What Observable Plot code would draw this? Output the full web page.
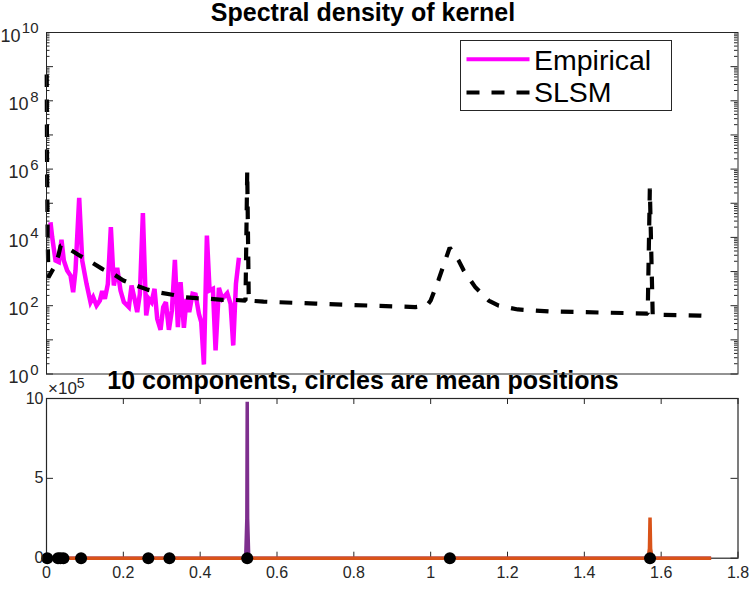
<!DOCTYPE html>
<html>
<head>
<meta charset="utf-8">
<script src="https://cdn.jsdelivr.net/npm/d3@7"></script>
<script src="https://cdn.jsdelivr.net/npm/@observablehq/plot@0.6"></script>
<style>
html,body{margin:0;padding:0;background:#fff;}
#wrap{position:relative;width:753px;height:593px;overflow:hidden;font-family:"Liberation Sans",sans-serif;color:#262626;}
#wrap svg{display:block;overflow:visible;background:transparent;}
#top,#bot{position:absolute;left:0;}
#top{top:0;} #bot{top:385px;}
.title{position:absolute;font-weight:bold;font-size:25px;line-height:24px;color:#000;white-space:nowrap;transform:translateX(-50%);}
#legend{position:absolute;left:459.5px;top:39.5px;width:210px;height:69px;border:1px solid #262626;background:#fff;box-sizing:content-box;}
#legend svg{position:absolute;left:0;top:0;}
#legend div{position:absolute;left:73.5px;font-size:28.5px;line-height:30px;color:#000;}
#mult{position:absolute;left:48px;top:380px;font-size:17px;line-height:18px;white-space:nowrap;}
#mult sup{font-size:14px;line-height:0;vertical-align:6px;}
</style>
</head>
<body>
<div id="wrap">
  <div id="top"></div>
  <div id="bot"></div>
  <div class="title" style="left:363px;top:0.4px">Spectral density of kernel</div>
  <div class="title" style="left:363px;top:368px">10 components, circles are mean positions</div>
  <div id="mult">×10<sup>5</sup></div>
  <div id="legend">
    <svg width="210" height="69">
      <line x1="5.5" x2="68.5" y1="18.2" y2="18.2" stroke="#ff00ff" stroke-width="4"/>
      <line x1="5.5" x2="68.5" y1="51.5" y2="51.5" stroke="#000" stroke-width="4" stroke-dasharray="13 12"/>
    </svg>
    <div style="top:4px">Empirical</div>
    <div style="top:36px">SLSM</div>
  </div>
</div>
<script>
// Empirical spectral density: frequency and log10(density)
const empiricalFreq = [.0104,.0148,.0234,.0321,.0390,.0451,.0538,.0625,.0694,.0755,.0851,.0929,.1042,.1146,.1215,.1302,.1389,.1450,.1519,.1597,.1675,.1753,.1840,.1927,.2014,.2144,.2214,.2292,.2361,.2431,.2509,.2595,.2665,.2734,.2812,.2882,.2969,.3038,.3108,.3186,.3264,.3342,.3420,.3490,.3576,.3646,.3715,.3802,.3880,.3967,.4028,.4097,.4175,.4245,.4332,.4401,.4488,.4575,.4705,.4792,.4861,.4931,.5009];
const empiricalLog = [4.446,4.007,3.324,3.275,3.929,3.324,3.031,2.884,2.396,3.031,5.159,3.324,2.640,2.103,2.250,2.006,2.152,2.426,2.201,2.640,4.300,2.592,3.109,2.445,2.103,1.957,2.592,2.201,1.811,2.348,4.710,1.713,2.201,2.103,2.494,1.616,1.293,1.957,2.103,1.293,1.860,3.343,1.371,2.689,1.352,2.201,1.811,2.348,2.328,1.762,1.518,0.278,4.056,2.445,2.494,0.688,2.523,2.201,2.367,2.055,0.835,2.640,3.402];

// SLSM spectral density
const slsmFreq = [.0005,.0015,.003,.005,.018,.031,.037,.045,.063,.089,.12,.146,.175,.2,.234,.263,.297,.328,.359,.391,.427,.458,.49,.518,.5225,.5265,.565,.7,.85,.96,.99,1.0,1.02,1.0495,1.0729,1.086,1.117,1.151,1.177,1.227,1.313,1.443,1.565,1.5705,1.578,1.6,1.7,1.72];
const slsmLog = [8.89,6,4,2.83,3.09,3.47,3.76,3.78,3.63,3.45,3.25,3.07,2.92,2.74,2.59,2.47,2.38,2.32,2.25,2.22,2.2,2.17,2.17,2.15,5.95,2.15,2.12,2.06,2.0,1.96,2.0,2.15,2.74,3.70,3.32,3.03,2.53,2.15,2.0,1.89,1.83,1.80,1.77,5.43,1.71,1.73,1.71,1.70];

// Components (lower panel)
const purpleFreq = [0,.5185,.5215,.5225,.5235,.5265,1.73];
const purpleVal = [0,0,2.5e5,9.8e5,2.5e5,0,0];
const orangeFreq = [0,1.5660,1.5695,1.5710,1.5725,1.5760,1.73];
const orangeVal = [0,0,0.6e5,2.55e5,0.6e5,0,0];
const meanPositions = [.002,.03,.036,.044,.09,.265,.32,.5225,1.05,1.571];

// Axis ticks
const xTicks = [0,.2,.4,.6,.8,1,1.2,1.4,1.6,1.8];
const xLabels = ["0","0.2","0.4","0.6","0.8","1","1.2","1.4","1.6","1.8"];
const decades = [0,2,4,6,8,10];
const allDecades = [0,1,2,3,4,5,6,7,8,9,10];
const yTicksBottom = [0,5e5,10e5];
const yLabelsBottom = ["0","5","10"];

const ink = "#262626";
const fs = 16;
const W = 753, mL = 46, mR = 15.5;

const minor = [];
for (const d of allDecades.slice(0,-1)) for (let k=2;k<10;k++) minor.push(k*10**d);
const major = allDecades.map(d=>10**d);
const pts = (xs,ys)=>xs.map((x,i)=>({x,y:ys[i]}));

const H1 = 385, top1 = 32, bot1 = 373.5;
const emp = pts(empiricalFreq, empiricalLog.map(v=>10**v));
const slsm = pts(slsmFreq, slsmLog.map(v=>10**v));

const p1 = Plot.plot({
  width:W,height:H1,marginLeft:mL,marginRight:mR,marginTop:top1,marginBottom:H1-bot1,
  style:{background:"transparent",fontFamily:"Liberation Sans",overflow:"visible"},
  x:{domain:[0,1.8],axis:null},
  y:{type:"log",domain:[1,1e10],axis:null},
  marks:[
    Plot.ruleY(major,{y:d=>d,stroke:ink,insetRight:(W-mL-mR)-7}),
    Plot.ruleY(major,{y:d=>d,stroke:ink,insetLeft:(W-mL-mR)-7}),
    Plot.ruleY(minor,{y:d=>d,stroke:ink,insetRight:(W-mL-mR)-3.5}),
    Plot.ruleY(minor,{y:d=>d,stroke:ink,insetLeft:(W-mL-mR)-3.5}),
    Plot.line(emp,{x:"x",y:"y",stroke:"#ff00ff",strokeWidth:4.5,strokeLinejoin:"miter",strokeMiterlimit:3,strokeLinecap:"butt"}),
    Plot.line(slsm,{x:"x",y:"y",stroke:"#000",strokeWidth:4.2,strokeDasharray:"12.7,12.3",strokeDashoffset:-4,strokeLinejoin:"miter",strokeLinecap:"butt"}),
    Plot.frame({stroke:ink,strokeWidth:1}),
    Plot.text(decades,{x:()=>0,y:d=>10**d,text:()=>"10",textAnchor:"end",fontSize:fs+2,fill:ink,
      render(index,scales,values,dims,ctx,next){const g=next(index,scales,values,dims,ctx);
        d3.select(g).selectAll("text").attr("transform",function(_,i){const d=decades[index[i]];return `translate(${mL-(d>=10?26:18)},${scales.y(10**d)+3.5})`;});return g;}}),
    Plot.text(decades,{x:()=>0,y:d=>10**d,text:d=>String(d),textAnchor:"end",dx:-8,dy:-4,fontSize:fs-1,fill:ink})
  ]
});
document.getElementById("top").append(p1);

const H2 = 208, top2 = 13, bot2 = 172.7;
const p2 = Plot.plot({
  width:W,height:H2,marginLeft:mL,marginRight:mR,marginTop:top2,marginBottom:H2-bot2,
  style:{background:"transparent",fontFamily:"Liberation Sans",overflow:"visible"},
  x:{domain:[0,1.8],axis:null},
  y:{domain:[0,1e6],axis:null},
  marks:[
    Plot.ruleX(xTicks,{x:d=>d,stroke:ink,insetTop:(bot2-top2)-6}),
    Plot.ruleX(xTicks,{x:d=>d,stroke:ink,insetBottom:(bot2-top2)-6}),
    Plot.ruleY(yTicksBottom,{y:d=>d,stroke:ink,insetRight:(W-mL-mR)-7}),
    Plot.ruleY(yTicksBottom,{y:d=>d,stroke:ink,insetLeft:(W-mL-mR)-7}),
    Plot.frame({stroke:ink,strokeWidth:1.2}),
    Plot.line(pts(purpleFreq,purpleVal),{x:"x",y:"y",stroke:"#7e2f8e",strokeWidth:3.5,strokeLinecap:"butt",strokeLinejoin:"miter"}),
    Plot.line(pts(orangeFreq,orangeVal),{x:"x",y:"y",stroke:"#d95319",strokeWidth:3.5,strokeLinecap:"butt",strokeLinejoin:"miter"}),
    Plot.dot(meanPositions,{x:d=>d,y:()=>0,r:6,fill:"#000",stroke:"none"}),
    Plot.text(xTicks,{x:d=>d,y:()=>0,text:(d,i)=>xLabels[i],dy:15,fontSize:fs,fill:ink}),
    Plot.text(yTicksBottom,{x:()=>0,y:d=>d,text:(d,i)=>yLabelsBottom[i],textAnchor:"end",dx:-3,fontSize:fs,fill:ink})
  ]
});
document.getElementById("bot").append(p2);
</script>
</body>
</html>
